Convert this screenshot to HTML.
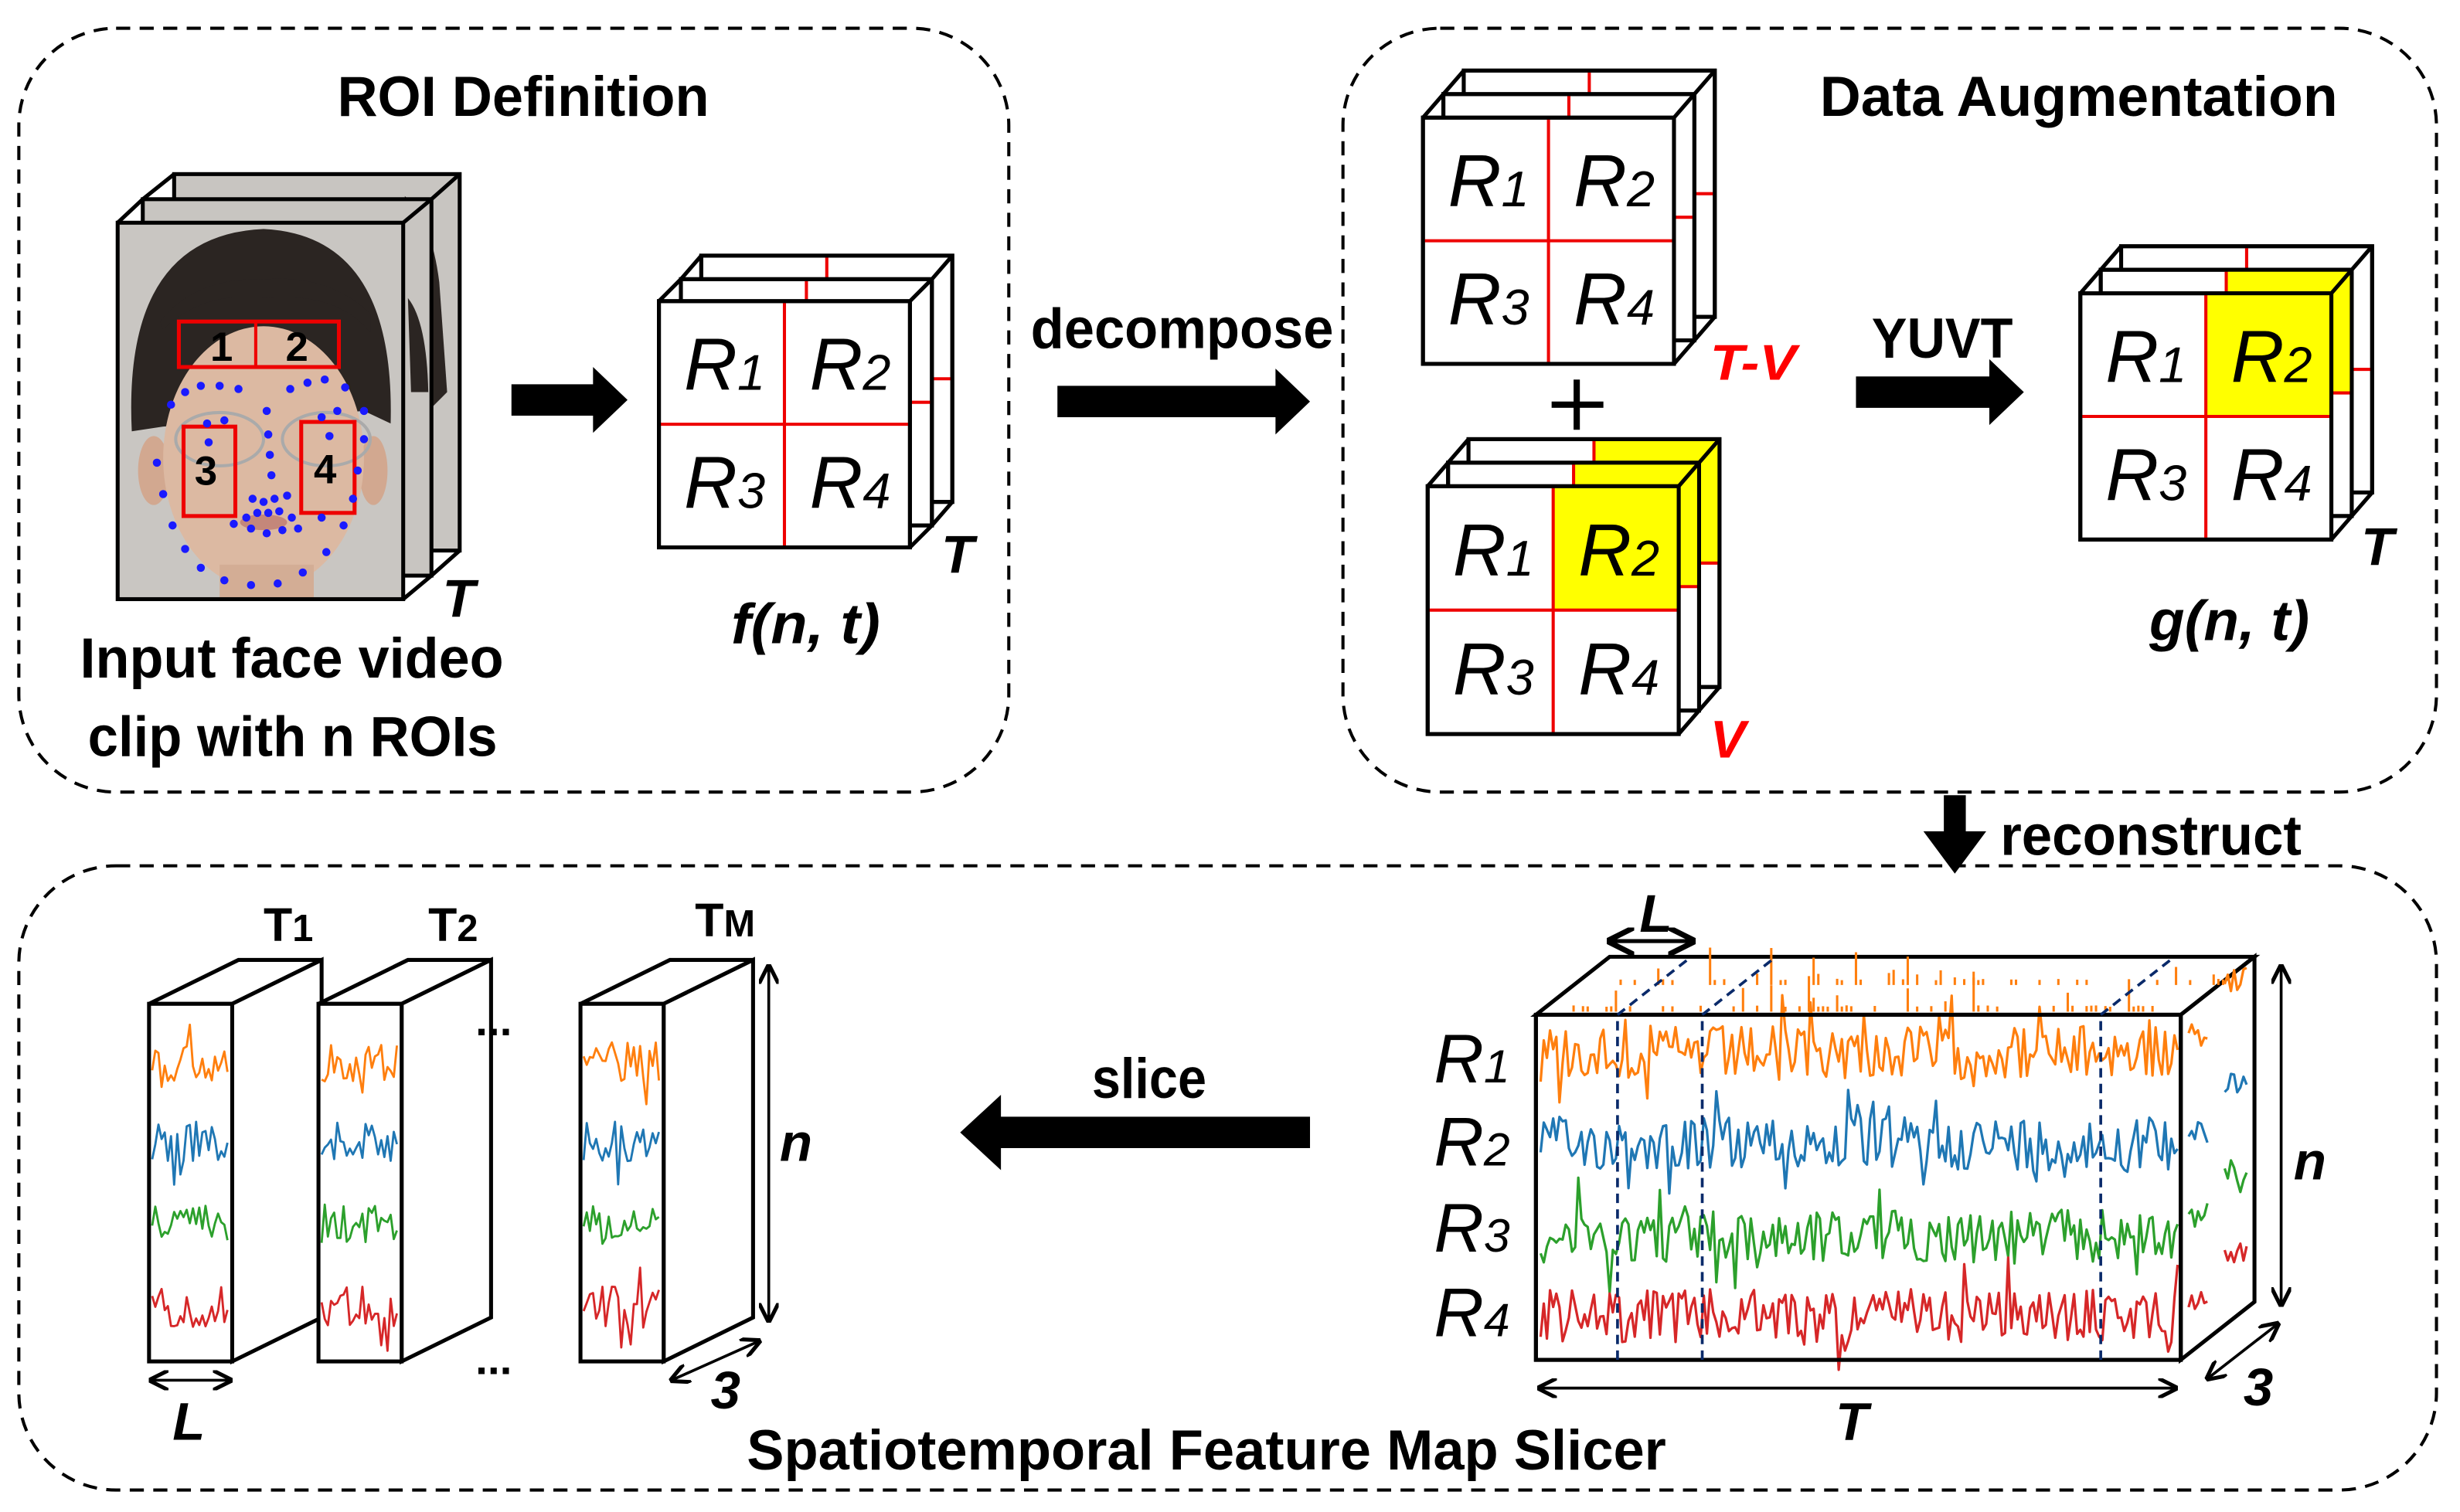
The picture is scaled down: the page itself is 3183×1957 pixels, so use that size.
<!DOCTYPE html>
<html><head><meta charset="utf-8"><style>
html,body{margin:0;padding:0;background:#fff}
svg{display:block}
text{font-family:"Liberation Sans",sans-serif}
</style></head><body>
<svg id="s" xmlns="http://www.w3.org/2000/svg" width="3183" height="1957" viewBox="0 0 1568 964" preserveAspectRatio="none"></svg>
<script>
var S=document.getElementById('s');var o='';
var seed=12345;function rnd(){seed=(seed*1103515245+12345)%2147483648;return seed/2147483648;}
function R(x,y,w,h,f,st,sw){o+='<rect x="'+x+'" y="'+y+'" width="'+w+'" height="'+h+'" fill="'+(f||'none')+'" stroke="'+(st||'none')+'" stroke-width="'+(sw||0)+'"/>';}
function L(x1,y1,x2,y2,c,w,extra){o+='<line x1="'+x1+'" y1="'+y1+'" x2="'+x2+'" y2="'+y2+'" stroke="'+c+'" stroke-width="'+w+'" '+(extra||'')+'/>';}
function T(x,y,s,txt,opt){opt=opt||{};o+='<text x="'+x+'" y="'+y+'" font-size="'+s+'" font-weight="'+(opt.w||'bold')+'" font-style="'+(opt.i?'italic':'normal')+'" fill="'+(opt.c||'#000')+'" text-anchor="'+(opt.a||'start')+'"'+(opt.len?' textLength="'+opt.len+'" lengthAdjust="spacingAndGlyphs"':'')+'>'+txt+'</text>';}
function rl(x,y,n,s){o+='<text x="'+x+'" y="'+y+'" font-size="'+s+'" font-style="italic" fill="#000">R<tspan font-size="'+(s*0.68)+'">'+n+'</tspan></text>';}
function DB(x,y,w,h){o+='<rect x="'+x+'" y="'+y+'" width="'+w+'" height="'+h+'" rx="62" ry="62" fill="none" stroke="#000" stroke-width="2" stroke-dasharray="9,6"/>';}
DB(12,18,631,487);DB(856,18,697,487);DB(12,552,1541,398);
function BA(x1,x2,y,th,hw,hl){o+='<polygon points="'+x1+','+(y-th/2)+' '+(x2-hl)+','+(y-th/2)+' '+(x2-hl)+','+(y-hw/2)+' '+x2+','+y+' '+(x2-hl)+','+(y+hw/2)+' '+(x2-hl)+','+(y+th/2)+' '+x1+','+(y+th/2)+'" fill="#000"/>';}
BA(326,400,255,20,42,22);BA(674,835,256,20,42,22);BA(1183,1290,250,20,42,22);
o+='<polygon points="835,712 638,712 638,698 612,722 638,746 638,732 835,732" fill="#000"/>';
o+='<polygon points="1239,507 1253,507 1253,530 1266,530 1246,557 1226,530 1239,530" fill="#000"/>';
T(215,74,36,'ROI Definition',{len:237});
T(1160,74,36,'Data Augmentation',{len:330});
T(51,432,36,'Input face video',{len:270});
T(56,482,36,'clip with n ROIs',{len:261});
T(657,222,36,'decompose',{len:193});
T(1193,228,36,'YUVT',{len:90});
T(1275,545,36,'reconstruct',{len:192});
T(696,700,36,'slice',{len:73});
T(476,937,36,'Spatiotemporal Feature Map Slicer',{len:586});
T(466,410,36,'f(n, t)',{i:1,len:95});
T(1370,408,36,'g(n, t)',{i:1,len:102});
T(1090,242,32,'T-V',{i:1,c:'#f00',len:55});
T(1090,483,34,'V',{i:1,c:'#f00'});
T(282,393,34,'T',{i:1});T(600,365,34,'T',{i:1});T(1505,360,34,'T',{i:1});
// face cube
function faceLayer(x,y,w,h){R(x,y,w,h,'#c8c5c1','#000',2.5);}
faceLayer(111,111,182,240);L(91,127,111,111,'#000',2.5);L(275,127,293,111,'#000',2.5);L(275,367,293,351,'#000',2.5);
o+='<path d="M258,125 Q275,140 280,180 L285,250 L275,260 Z" fill="#2b2522"/>';
faceLayer(91,127,184,240);L(75,142,91,127,'#000',2.5);L(257,142,275,127,'#000',2.5);L(257,382,275,367,'#000',2.5);
o+='<path d="M260,190 Q272,205 273,250 L262,250 Z" fill="#2b2522"/>';
o+='<clipPath id="fc"><rect x="75" y="142" width="182" height="240"/></clipPath><g clip-path="url(#fc)">';
R(75,142,182,240,'#c9c6c2');
o+='<path d="M84,275 Q78,150 168,146 Q252,150 249,270 L232,262 L104,272 Z" fill="#2b2522"/>';
o+='<ellipse cx="98" cy="300" rx="10" ry="22" fill="#d2a890"/><ellipse cx="238" cy="300" rx="9" ry="22" fill="#d2a890"/>';
o+='<ellipse cx="168" cy="292" rx="64" ry="84" fill="#dcb9a2"/><rect x="140" y="360" width="60" height="30" fill="#d3ad95"/>';
o+='<path d="M104,210 Q130,185 170,190 Q215,186 236,212 L236,200 Q210,175 170,178 Q125,176 102,205 Z" fill="#2b2522"/>';
o+='<ellipse cx="140" cy="280" rx="28" ry="17" fill="none" stroke="#aaa" stroke-width="2"/><ellipse cx="208" cy="280" rx="28" ry="17" fill="none" stroke="#aaa" stroke-width="2"/>';
o+='<ellipse cx="168" cy="333" rx="15" ry="5" fill="#c4877a"/></g>';
R(75,142,182,240,'none','#000',2.5);
R(114,205,102,29,'none','#e00',2.5);L(163,205,163,234,'#e00',2);
R(117,272,33,57,'none','#e00',2.5);R(192,269,34,58,'none','#e00',2.5);
T(134,230,26,'1');T(182,230,26,'2');T(124,309,26,'3');T(200,308,26,'4');
var dots=[[100,295],[104,315],[110,335],[118,350],[128,362],[143,370],[160,373],[177,372],[193,365],[208,352],[219,335],[225,318],[228,300],[232,280],[232,262],[109,258],[118,250],[128,246],[140,246],[152,248],[185,248],[196,244],[207,242],[220,247],[132,270],[143,268],[133,282],[205,266],[215,262],[210,278],[170,262],[171,277],[172,290],[173,303],[161,318],[168,320],[175,318],[183,316],[157,330],[164,327],[171,327],[178,326],[186,330],[160,337],[170,340],[180,338],[149,334],[205,330],[190,337]];
dots.forEach(function(d){o+='<circle cx="'+d[0]+'" cy="'+d[1]+'" r="2.6" fill="#1a1aff"/>';});
function cube(x,y,w,h,offs,yl){
 for(var i=0;i<offs.length;i++){var dx=offs[i][0],dy=offs[i][1];var X=x+dx,Y=y+dy;
  R(X,Y,w,h,'#fff','#000',2.5);
  if(yl&&i>=offs.length-1-yl.n) R(X+w/2,Y,w/2,h/2,'#ff0');
  L(X+w/2,Y,X+w/2,Y+h,'#e00',2);L(X,Y+h/2,X+w,Y+h/2,'#e00',2);
  R(X,Y,w,h,'none','#000',2.5);
  if(i<offs.length-1){var nx=x+offs[i+1][0],ny=y+offs[i+1][1];
   L(nx,ny,X,Y,'#000',2.5);L(nx+w,ny,X+w,Y,'#000',2.5);L(nx+w,ny+h,X+w,Y+h,'#000',2.5);}
 }
 var cw=w/2,ch=h/2;
 rl(x+cw*0.2,y+ch*0.72,1,47);rl(x+cw+cw*0.2,y+ch*0.72,2,47);
 rl(x+cw*0.2,y+ch*1.68,3,47);rl(x+cw+cw*0.2,y+ch*1.68,4,47);
}
cube(420,192,160,157,[[27,-29],[14,-14],[0,0]]);
cube(907,75,160,157,[[26,-30],[13,-15],[0,0]]);
cube(910,310,160,158,[[26,-30],[13,-15],[0,0]],{n:2});
cube(1326,187,160,157,[[26,-30],[13,-15],[0,0]],{n:1});
R(989,256,33,4,'#000');R(1003,242,4,32,'#000');
function sig(x0,x1,cy,amp,col,w){var p=[];for(var x=x0;x<=x1;x+=2){var v=(rnd()-0.5)*amp;if(rnd()<0.08)v*=2.2;p.push(x.toFixed(1)+','+(cy+v).toFixed(1));}
 o+='<polyline points="'+p.join(' ')+'" fill="none" stroke="'+col+'" stroke-width="'+(w||1.6)+'" stroke-linejoin="round"/>';}
var C=['#ff7f0e','#1f77b4','#2ca02c','#d62728'];
var fx=979,fy=647,fw=411,fh=220,bx=47,by=-37;
o+='<polygon points="'+fx+','+fy+' '+(fx+bx)+','+(fy+by)+' '+(fx+fw+bx)+','+(fy+by)+' '+(fx+fw)+','+fy+'" fill="#fff" stroke="#000" stroke-width="2.5"/>';
o+='<polygon points="'+(fx+fw)+','+fy+' '+(fx+fw+bx)+','+(fy+by)+' '+(fx+fw+bx)+','+(fy+fh+by)+' '+(fx+fw)+','+(fy+fh)+'" fill="#fff" stroke="#000" stroke-width="2.5"/>';
function spikes(x0,x1,base,col){var d='';for(var x=x0;x<x1;x+=3){var hgt=rnd()<0.12?rnd()*20+4:rnd()*4;if(hgt>3)d+='M'+x+','+base+' L'+x+','+(base-hgt)+' ';}o+='<path d="'+d+'" stroke="'+col+'" stroke-width="1.5" fill="none"/>';}
spikes(1000,1375,645,C[0]);spikes(1030,1420,628,C[0]);
sig(1395,1408,660,16,C[0]);sig(1418,1432,625,20,C[0]);
sig(1395,1408,720,16,C[1]);sig(1418,1432,690,16,C[1]);
sig(1395,1408,775,16,C[2]);sig(1418,1432,745,16,C[2]);
sig(1395,1408,828,14,C[3]);sig(1418,1432,798,14,C[3]);
R(fx,fy,fw,fh,'#fff','#000',2.5);
sig(982,1388,671,34,C[0]);sig(982,1388,729,34,C[1]);sig(982,1388,788,34,C[2]);sig(982,1388,839,34,C[3]);
R(fx,fy,fw,fh,'none','#000',2.5);
[1031,1085,1339].forEach(function(x){L(x,fy+fh,x,fy,'#0a2a6a',1.8,'stroke-dasharray="6,4"');L(x,fy,x+bx,fy+by,'#0a2a6a',1.8,'stroke-dasharray="6,4"');});
rl(914,690,1,44);rl(914,743,2,44);rl(914,798,3,44);rl(914,852,4,44);
function DA(x1,y1,x2,y2,w){o+='<line x1="'+x1+'" y1="'+y1+'" x2="'+x2+'" y2="'+y2+'" stroke="#000" stroke-width="'+(w||1.8)+'" marker-start="url(#ah)" marker-end="url(#ah)"/>';}
o='<defs><marker id="ah" viewBox="0 0 10 10" refX="9" refY="5" markerWidth="7" markerHeight="7" orient="auto-start-reverse"><path d="M0,0 L10,5 L0,10" fill="none" stroke="#000" stroke-width="2"/></marker></defs>'+o;
DA(1454,616,1454,832);DA(981,885,1387,885);DA(1026,600,1079,600,2.5);DA(1452,844,1407,879);
T(1462,752,34,'n',{i:1});T(1430,896,34,'3',{i:1});T(1170,918,34,'T',{i:1});T(1045,594,34,'L',{i:1});
function slice(x){var y=640,w=53,h=228,dx=57,dy=-28;
 o+='<polygon points="'+x+','+y+' '+(x+dx)+','+(y+dy)+' '+(x+w+dx)+','+(y+dy)+' '+(x+w)+','+y+'" fill="#fff" stroke="#000" stroke-width="2.5"/>';
 o+='<polygon points="'+(x+w)+','+y+' '+(x+w+dx)+','+(y+dy)+' '+(x+w+dx)+','+(y+h+dy)+' '+(x+w)+','+(y+h)+'" fill="#fff" stroke="#000" stroke-width="2.5"/>';
 R(x,y,w,h,'#fff','#000',2.5);
 sig(x+2,x+w-2,677,26,C[0],1.4);sig(x+2,x+w-2,728,26,C[1],1.4);sig(x+2,x+w-2,780,26,C[2],1.4);sig(x+2,x+w-2,833,26,C[3],1.4);
}
slice(95);slice(203);slice(370);
T(168,600,30,'T<tspan font-size="24">1</tspan>');T(273,600,30,'T<tspan font-size="24">2</tspan>');T(443,597,30,'T<tspan font-size="24">M</tspan>');
T(303,660,28,'...');T(303,876,28,'...');
DA(490,616,490,842);T(497,740,34,'n',{i:1});
DA(96,880,147,880);T(110,918,34,'L',{i:1});
DA(484,855,428,880);T(453,898,34,'3',{i:1});
S.innerHTML=o;
</script>
</body></html>
